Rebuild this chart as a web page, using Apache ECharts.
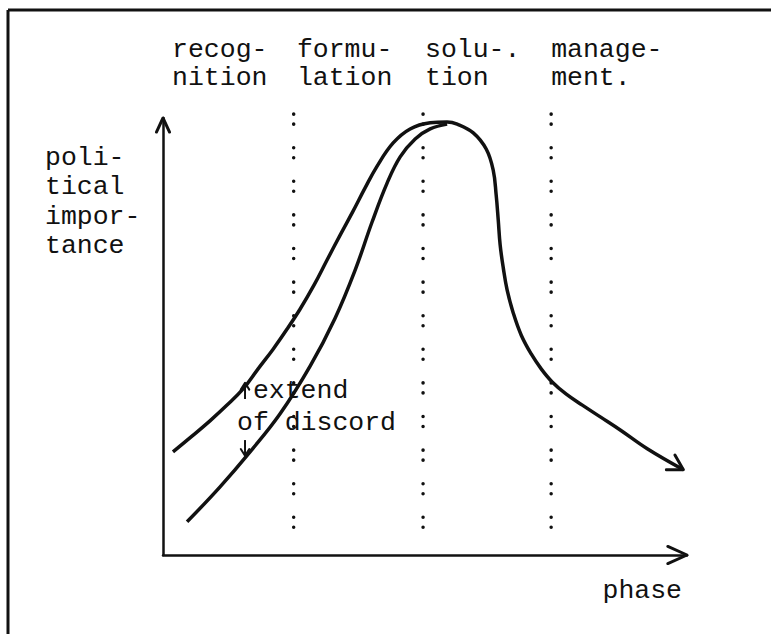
<!DOCTYPE html>
<html>
<head>
<meta charset="utf-8">
<title>political importance by phase</title>
<script src="https://cdn.jsdelivr.net/npm/echarts@6.0.0/dist/echarts.min.js"></script>
<style>
html,body{margin:0;padding:0;background:#fff;overflow:hidden}
#chart{width:771px;height:634px}
</style>
</head>
<body>
<div id="chart"></div>
<script>
// x = phase (one unit per phase), y = political importance
const phaseNames = ['recog-\nnition', 'formu-\nlation', 'solu-.\ntion', 'manage-\nment.']
const phaseStarts = [0.07, 1.035, 2.025, 3.0]
const phaseBounds = [1.01, 2.01, 3.0]
const boundTop = 10.09
const boundBottom = 0.58

// upper curve on the way up
const riseEarly = [
    [0.077, 2.36], [0.224, 2.72], [0.363, 3.07], [0.495, 3.43], [0.619, 3.80],
    [0.735, 4.26], [0.851, 4.71], [0.959, 5.17], [1.060, 5.63], [1.168, 6.18],
    [1.268, 6.75], [1.369, 7.32], [1.469, 7.87], [1.562, 8.40], [1.655, 8.90],
    [1.779, 9.43], [1.910, 9.75], [2.065, 9.89], [2.196, 9.91]
]
// lower curve on the way up
const riseLate = [
    [0.186, 0.76], [0.441, 1.56], [0.673, 2.36], [0.905, 3.23], [1.137, 4.32],
    [1.330, 5.42], [1.485, 6.52], [1.616, 7.62], [1.732, 8.51], [1.833, 9.11],
    [1.949, 9.52], [2.065, 9.75], [2.196, 9.86]
]
// single curve after the peak
const decline = [
    [2.196, 9.89], [2.274, 9.86], [2.398, 9.66], [2.498, 9.29], [2.552, 8.81],
    [2.575, 8.24], [2.591, 7.67], [2.606, 7.09], [2.630, 6.57], [2.660, 6.06],
    [2.707, 5.54], [2.769, 5.03], [2.846, 4.60], [2.923, 4.26], [3.008, 3.96],
    [3.117, 3.68], [3.241, 3.43], [3.380, 3.16], [3.534, 2.86], [3.743, 2.43],
    [4.022, 1.95]
]

// "extend of discord" arrows: [from, tip]
const discordX = 0.634
const discordUp = [3.57, 3.94]
const discordDown = [2.63, 2.27]

const xMax = 4.05
const yMax = 10

const ink = '#111'
const mono = '"Liberation Mono", "Courier New", monospace'

let chart = echarts.init(document.getElementById('chart'), null, {renderer: 'svg'})

function renderArrow(params, api) {
    let tip = api.coord([api.value(0), api.value(1)])
    let from = api.coord([api.value(2), api.value(3)])
    let len = api.value(4)
    let half = api.value(5) * Math.PI / 180
    let shaft = api.value(6)
    let a = Math.atan2(from[1] - tip[1], from[0] - tip[0])
    let p1 = [tip[0] + len * Math.cos(a - half), tip[1] + len * Math.sin(a - half)]
    let p2 = [tip[0] + len * Math.cos(a + half), tip[1] + len * Math.sin(a + half)]
    let children = [{
        type: 'polyline',
        shape: {points: [p1, tip, p2]},
        style: {stroke: ink, lineWidth: shaft ? 2 : 3, fill: 'none', lineJoin: 'round', lineCap: 'round'}
    }]
    if (shaft) {
        children.push({
            type: 'line',
            shape: {x1: from[0], y1: from[1], x2: tip[0], y2: tip[1]},
            style: {stroke: ink, lineWidth: shaft}
        })
    }
    return {type: 'group', children: children}
}

let last = decline[decline.length - 1]
let beforeLast = decline[decline.length - 2]
let arrows = [
    [0, yMax, 0, yMax - 1, 15.5, 25, 0],
    [xMax, 0, xMax - 0.3, 0, 21, 24, 0],
    [last[0], last[1], beforeLast[0], beforeLast[1], 17, 30, 0],
    [discordX, discordUp[1], discordX, discordUp[0], 8, 32, 2],
    [discordX, discordDown[1], discordX, discordDown[0], 8, 32, 2]
]

let curveStyle = {color: ink, width: 3.5}
let frameStyle = {stroke: ink, lineWidth: 3}

let option = {
    animation: false,
    backgroundColor: '#fff',
    grid: {left: 163, top: 118, right: 84, bottom: 79},
    xAxis: [{
        type: 'value', min: 0, max: xMax,
        axisLine: {show: true, lineStyle: {color: ink, width: 2.5}},
        axisTick: {show: false}, axisLabel: {show: false}, splitLine: {show: false},
        name: 'phase', nameLocation: 'end', nameGap: -5,
        nameTextStyle: {fontFamily: mono, fontSize: 26.5, color: ink, align: 'right', verticalAlign: 'top', padding: [22, 0, 0, 0]}
    }, {
        type: 'value', position: 'top', min: 0, max: xMax,
        axisLine: {show: false}, axisTick: {show: false}, splitLine: {show: false},
        axisLabel: {
            show: true, margin: 26, align: 'left', customValues: phaseStarts,
            fontFamily: mono, fontSize: 26.5, lineHeight: 28, color: ink,
            formatter: function(v) {
                let i = phaseStarts.indexOf(v)
                return i >= 0 ? phaseNames[i] : ''
            }
        }
    }],
    yAxis: {
        type: 'value', min: 0, max: yMax,
        axisLine: {show: true, lineStyle: {color: ink, width: 2.5}},
        axisTick: {show: false}, axisLabel: {show: false}, splitLine: {show: false}
    },
    graphic: [{
        type: 'line', silent: true,
        shape: {x1: 8, y1: 10, x2: 8, y2: 634},
        style: frameStyle
    }, {
        type: 'line', silent: true,
        shape: {x1: 8, y1: 10, x2: 771, y2: 10},
        style: frameStyle
    }, {
        type: 'text', left: 45, top: 143,
        style: {text: 'poli-\ntical\nimpor-\ntance', font: '26.5px ' + mono, lineHeight: 29.5, fill: ink}
    }, {
        type: 'text', left: 237, top: 375,
        style: {text: ' extend\nof discord', font: '26.5px ' + mono, lineHeight: 32, fill: ink}
    }],
    series: [
        {type: 'line', data: riseEarly.concat(decline.slice(1)), smooth: 0.4, symbol: 'none', lineStyle: curveStyle, clip: false, z: 4},
        {type: 'line', data: riseLate, smooth: 0.4, symbol: 'none', lineStyle: curveStyle, clip: false, z: 4}
    ].concat(phaseBounds.map(function(x) {
        return {
            type: 'line', data: [[x, boundTop], [x, boundBottom]], symbol: 'none', silent: true, clip: false,
            lineStyle: {color: ink, width: 3.5, type: [0.1, 9.9, 0.1, 23.5], cap: 'round'}
        }
    })).concat([{
        type: 'custom', renderItem: renderArrow, data: arrows, clip: false, silent: true, z: 5
    }])
}

chart.setOption(option)
</script>
</body>
</html>
